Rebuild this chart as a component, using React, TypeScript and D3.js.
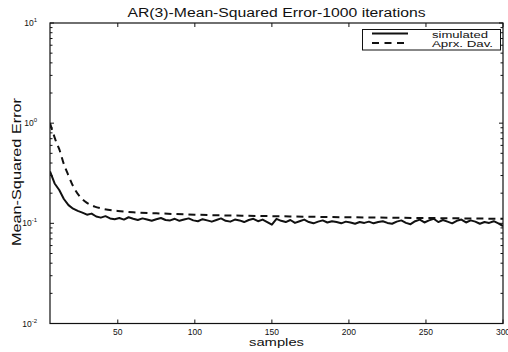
import React from "react";
import * as d3 from "d3";

const TITLE = "AR(3)-Mean-Squared Error-1000 iterations";
const X_LABEL = "samples";
const Y_LABEL = "Mean-Squared Error";
const X_TICKS = [50, 100, 150, 200, 250, 300];
const Y_DECADES = [-2, -1, 0, 1];
const LEGEND = ["simulated", "Aprx. Dav."];

// simulated MSE at samples 6, 9, 12, ... 300
const SIM_START = 6;
const SIM_STEP = 3;
const SIM_VALUES = [
  0.330, 0.250, 0.215, 0.175, 0.152, 0.140, 0.133, 0.128, 0.122, 0.125,
  0.117, 0.114, 0.118, 0.112, 0.110, 0.113, 0.109, 0.115, 0.111, 0.108,
  0.112, 0.109, 0.106, 0.110, 0.113, 0.108, 0.107, 0.111, 0.106, 0.109,
  0.112, 0.107, 0.105, 0.110, 0.107, 0.104, 0.108, 0.112, 0.106, 0.104,
  0.109, 0.107, 0.103, 0.108, 0.111, 0.105, 0.109, 0.103, 0.097, 0.111,
  0.106, 0.103, 0.108, 0.101, 0.105, 0.109, 0.103, 0.100, 0.104, 0.107,
  0.102, 0.105, 0.103, 0.100, 0.104, 0.102, 0.099, 0.103, 0.101, 0.104,
  0.100, 0.103, 0.105, 0.101, 0.099, 0.104, 0.107, 0.101, 0.098, 0.105,
  0.109, 0.102, 0.107, 0.111, 0.103, 0.108, 0.104, 0.100, 0.106, 0.109,
  0.102, 0.107, 0.104, 0.099, 0.103, 0.101, 0.105, 0.100, 0.094,
];

// approximation curve
const APRX_X = [6, 8, 10, 12, 15, 18, 21, 25, 30, 35, 40, 50, 60, 75, 100, 150, 200, 250, 300];
const APRX_Y = [1.0, 0.8, 0.65, 0.55, 0.39, 0.3, 0.235, 0.188, 0.16, 0.147, 0.14, 0.133, 0.129, 0.126, 0.122, 0.118, 0.115, 0.113, 0.111];

const W = 508, H = 352;
const M = { left: 50, right: 503, top: 23, bottom: 323.5 };

export default function App() {
  const x = d3.scaleLinear().domain([6, 300]).range([M.left, M.right]);
  const y = d3.scaleLog().domain([0.01, 10]).range([M.bottom, M.top]);

  const sim = SIM_VALUES.map((v, i) => [SIM_START + i * SIM_STEP, v] as [number, number]);
  const aprx = APRX_X.map((s, i) => [s, APRX_Y[i]] as [number, number]);

  const line = d3.line<[number, number]>().x((d) => x(d[0])).y((d) => y(d[1]));
  const smooth = d3.line<[number, number]>().x((d) => x(d[0])).y((d) => y(d[1])).curve(d3.curveMonotoneX);

  const minor: number[] = [];
  for (const e of [-2, -1, 0]) for (let k = 2; k <= 9; k++) minor.push(k * Math.pow(10, e));

  const font = "'Liberation Sans', Arial, sans-serif";

  return (
    <svg width={W} height={H} style={{ position: "absolute", left: 0, top: 0, background: "#fff" }} fontFamily={font}>
      <rect x={0} y={0} width={W} height={H} fill="#fff" />
      <clipPath id="clip">
        <rect x={M.left} y={M.top} width={M.right - M.left} height={M.bottom - M.top} />
      </clipPath>
      <g clipPath="url(#clip)">
        <path d={smooth(aprx) || ""} fill="none" stroke="#111" strokeWidth={2} strokeDasharray="7,5" />
        <path d={line(sim) || ""} fill="none" stroke="#111" strokeWidth={2} strokeLinejoin="round" />
      </g>
      <rect x={M.left} y={M.top} width={M.right - M.left} height={M.bottom - M.top} fill="none" stroke="#111" strokeWidth={1.2} />
      {X_TICKS.map((t) => (
        <g key={"x" + t}>
          <line x1={x(t)} x2={x(t)} y1={M.bottom} y2={M.bottom - 4} stroke="#111" />
          <line x1={x(t)} x2={x(t)} y1={M.top} y2={M.top + 4} stroke="#111" />
          <text x={x(t)} y={335} fontSize={8.5} textAnchor="middle" fill="#111">{t}</text>
        </g>
      ))}
      {Y_DECADES.map((e) => (
        <g key={"y" + e}>
          <line x1={M.left} x2={M.left + 4} y1={y(Math.pow(10, e))} y2={y(Math.pow(10, e))} stroke="#111" />
          <line x1={M.right} x2={M.right - 4} y1={y(Math.pow(10, e))} y2={y(Math.pow(10, e))} stroke="#111" />
          <text x={37} y={y(Math.pow(10, e)) + 3} fontSize={8.5} textAnchor="end" fill="#111">
            10<tspan dy={-4} fontSize={6}>{e}</tspan>
          </text>
        </g>
      ))}
      {minor.map((v) => (
        <g key={"m" + v}>
          <line x1={M.left} x2={M.left + 2.5} y1={y(v)} y2={y(v)} stroke="#111" />
          <line x1={M.right} x2={M.right - 2.5} y1={y(v)} y2={y(v)} stroke="#111" />
        </g>
      ))}
      <text x={276.5} y={17} fontSize={12} textAnchor="middle" fill="#111" textLength={298} lengthAdjust="spacingAndGlyphs">{TITLE}</text>
      <text x={276.5} y={346} fontSize={11.5} textAnchor="middle" fill="#111" textLength={55} lengthAdjust="spacingAndGlyphs">{X_LABEL}</text>
      <text transform={`translate(21,172) rotate(-90)`} fontSize={12} textAnchor="middle" fill="#111" textLength={148} lengthAdjust="spacingAndGlyphs">{Y_LABEL}</text>
      <g>
        <rect x={362.5} y={29.5} width={138} height={20.5} fill="#fff" stroke="#111" strokeWidth={1} />
        <line x1={372} x2={408} y1={33.5} y2={33.5} stroke="#111" strokeWidth={2} />
        <line x1={372} x2={408} y1={43} y2={43} stroke="#111" strokeWidth={2} strokeDasharray="7,5.5" />
        <text x={432} y={37.5} fontSize={8.5} fill="#111" textLength={56} lengthAdjust="spacingAndGlyphs">{LEGEND[0]}</text>
        <text x={432} y={47} fontSize={8.5} fill="#111" textLength={61} lengthAdjust="spacingAndGlyphs">{LEGEND[1]}</text>
      </g>
    </svg>
  );
}
